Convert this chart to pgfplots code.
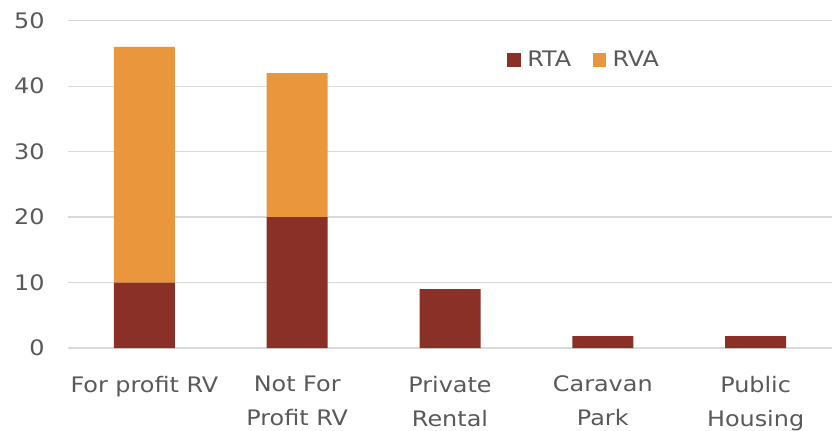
\documentclass[border=0pt]{standalone}
\usepackage{fontspec}
\setmainfont{DejaVu Sans}[FakeStretch=1.12]
\usepackage{pgfplots}
\pgfplotsset{compat=1.18}
\definecolor{rta}{RGB}{139,48,38}
\definecolor{rva}{RGB}{233,150,60}
\definecolor{gridc}{RGB}{217,217,217}
\definecolor{txt}{RGB}{89,89,89}
\begin{document}
\begin{tikzpicture}
\path[use as bounding box] (-51pt,-61.5pt) rectangle (577.5pt,261pt);
\begin{axis}[
  at={(0,0)}, anchor=south west,
  scale only axis, width=573pt, height=245.5pt,
  ybar stacked, bar width=45.75pt,
  xmin=-0.5, xmax=4.5, ymin=0, ymax=50,
  xtick=data,
  xticklabels={For profit RV, Not For\\Profit RV, Private\\Rental, Caravan\\Park, Public\\Housing},
  ytick={0,10,...,50},
  axis line style={draw=none},
  major tick length=0pt,
  ymajorgrids, grid style={gridc, line width=0.9pt},
  tick label style={font=\fontsize{16}{25.5}\selectfont, text=txt},
  /pgf/number format/assume math mode=true,
  xticklabel style={align=center, anchor=north, yshift=-17.5pt},
  yticklabel style={anchor=east, xshift=-14pt},
  legend style={draw=none, fill=none, at={(0.676,0.88)}, anchor=center,
    font=\fontsize{16}{18}\selectfont, text=txt, legend columns=2,
    /tikz/every odd column/.append style={column sep=3pt},
    /tikz/every even column/.append style={column sep=14pt}},
  legend image code/.code={\fill[#1] (0pt,-5pt) rectangle (10pt,5pt);},
]
\addplot[fill=rta, draw=none] coordinates {(0,10) (1,20) (2,9) (3,1.8) (4,1.8)};
\addplot[fill=rva, draw=none] coordinates {(0,36) (1,22) (2,0) (3,0) (4,0)};
\legend{RTA, RVA}
\end{axis}
\end{tikzpicture}
\end{document}
